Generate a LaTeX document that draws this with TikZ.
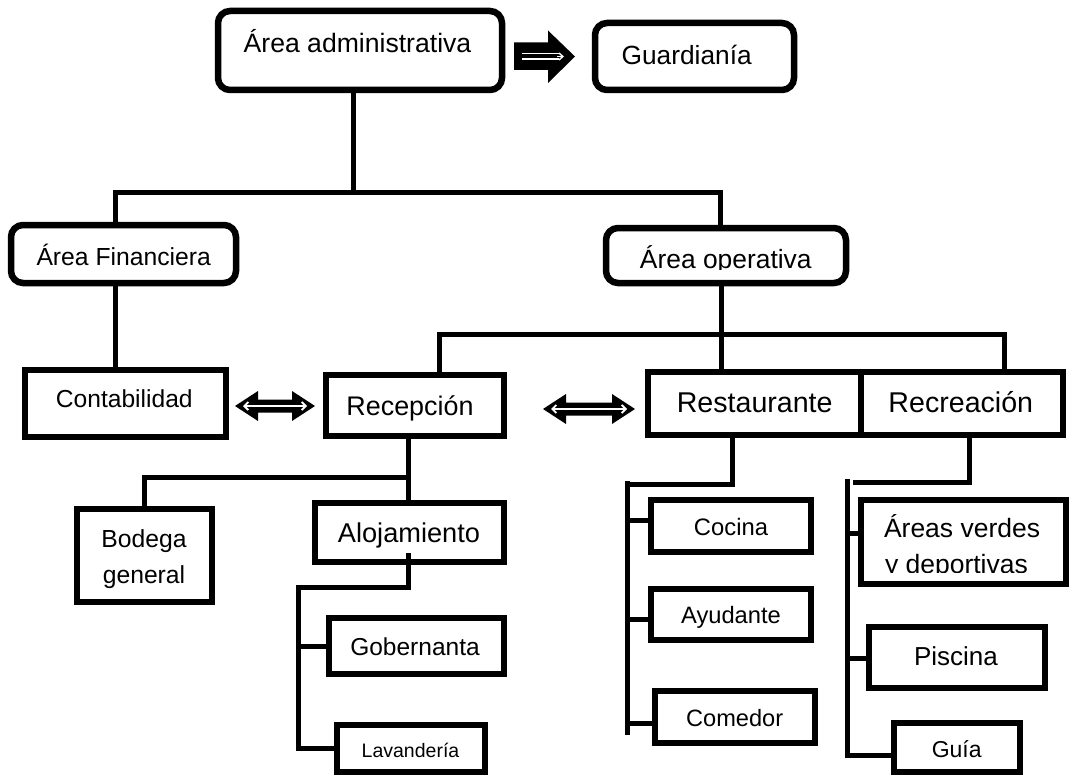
\documentclass[tikz,border=0pt]{standalone}
\usepackage{fontspec}
\setmainfont{Liberation Sans}
\usetikzlibrary{arrows.meta,calc}
\newcommand\tsz[1]{\fontsize{#1pt}{#1pt}\selectfont}
\begin{document}
\begin{tikzpicture}[x=1pt,y=-1pt,
  orgbox/.style={draw=black, line width=6pt, fill=white, inner sep=0pt, outer sep=0pt},
  roundbox/.style={orgbox, line width=6.5pt, rounded corners=12pt},
  link/.style={draw=black, line width=5pt, line join=miter},
  lbl/.style={anchor=base, inner sep=0pt, outer sep=0pt},
  fatarrow/.style={fill=black},
  hollowarrow/.style={draw=white, double=black, double distance=4pt, line width=1.6pt},
  thinarrow/.style={draw=white, line width=1.8pt}]
\useasboundingbox[fill=white] (0,0) rectangle (1069,776);

% ---- boxes ----
\node[roundbox, minimum width=284pt, minimum height=79pt] (adm)   at (360,50.5) {};
\node[roundbox, minimum width=199pt, minimum height=67pt] (guard) at (694.5,56.5) {};
\node[roundbox, minimum width=225pt, minimum height=58pt] (fin)   at (123.5,254) {};
\node[roundbox, minimum width=240pt, minimum height=55pt] (oper)  at (726,255.5) {};
\node[orgbox, minimum width=201pt, minimum height=67pt] (cont)  at (125,403) {};
\node[orgbox, minimum width=178pt, minimum height=61pt] (recep) at (415,405.5) {};
\node[orgbox, minimum width=213pt, minimum height=63pt] (rest)  at (754.5,403.5) {};
\node[orgbox, minimum width=202pt, minimum height=63pt] (recr)  at (962,403.5) {};
\node[orgbox, minimum width=135pt, minimum height=93pt] (bod)   at (144.5,555.5) {};
\node[orgbox, minimum width=189pt, minimum height=59pt] (aloj)  at (409.5,532.5) {};
\node[orgbox, minimum width=175pt, minimum height=56pt] (gob)   at (416.5,646) {};
\node[orgbox, minimum width=148pt, minimum height=47pt] (lav)   at (411,748.5) {};
\node[orgbox, minimum width=160pt, minimum height=52pt] (coc)   at (731,526) {};
\node[orgbox, minimum width=160pt, minimum height=51pt] (ayu)   at (731,614.5) {};
\node[orgbox, minimum width=160pt, minimum height=52pt] (com)   at (735,717) {};
\node[orgbox, minimum width=205pt, minimum height=84pt] (verd)  at (963.5,542) {};
\node[orgbox, minimum width=176pt, minimum height=61pt] (pisc)  at (957,657.5) {};
\node[orgbox, minimum width=126pt, minimum height=49pt] (guia)  at (957,747.5) {};

% ---- junction points ----
\coordinate (admdrop) at (353,192);
\coordinate (topL) at (115,192);
\coordinate (topR) at (720,192);
\coordinate (midC) at (721,334);
\coordinate (midL) at (439,334);
\coordinate (midR) at (1004,334);
\coordinate (recJ) at (408,477);
\coordinate (bodJ) at (144,477);
\coordinate (alojS) at (408,553);
\coordinate (alojJ) at (408,587);
\coordinate (alojL) at (298,587);
\coordinate (alojB) at (298,748.5);
\coordinate (gobJ) at (298,646);
\coordinate (restJ) at (732,484);
\coordinate (restL) at (627,484);
\coordinate (restT) at (627,481);
\coordinate (restB) at (627,735);
\coordinate (cocJ) at (627,520);
\coordinate (ayuJ) at (627,619);
\coordinate (comJ) at (627,723);
\coordinate (recrJ) at (969,482);
\coordinate (recrL) at (853,482);
\coordinate (recrT) at (847,479);
\coordinate (recrB) at (847,758);
\coordinate (verdJ) at (847,533);
\coordinate (piscJ) at (847,658);
\coordinate (guiaJ) at (847,755);

% ---- connectors ----
\draw[link] (adm.south -| admdrop) -- (admdrop);
\draw[link] (fin.north -| topL) -- (topL) -- (topR) -- (oper.north -| topR);
\draw[link] (fin.south -| topL) -- (cont.north -| topL);
\draw[link] (oper.south -| midC) -- (rest.north -| midC);
\draw[link] (recep.north -| midL) -- (midL) -- (midR) -- (recr.north -| midR);
\draw[link] (recep.south -| recJ) -- (aloj.north -| recJ);
\draw[link] (recJ) -- (bodJ) -- (bod.north -| bodJ);
\draw[link] (alojS) -- (alojJ) -- (alojL) -- (alojB) -- (lav.west);
\draw[link] (gobJ) -- (gob.west);
\draw[link] (rest.south -| restJ) -- (restJ) -- (restL);
\draw[link] (restT) -- (restB);
\draw[link] (cocJ) -- (coc.west |- cocJ);
\draw[link] (ayuJ) -- (ayu.west |- ayuJ);
\draw[link] (comJ) -- (com.west |- comJ);
\draw[link] (recr.south -| recrJ) -- (recrJ) -- (recrL);
\draw[link] (recrT) -- (recrB);
\draw[link] (verdJ) -- (verd.west |- verdJ);
\draw[link] (piscJ) -- (pisc.west |- piscJ);
\draw[link] (guiaJ) -- (guia.west |- guiaJ);

% ---- block arrows ----
\coordinate (ga) at (514,56.5);
\coordinate (gb) at (575,56.5);
\fill[fatarrow] (ga) ++(0,-14) -- ++(34,0) -- ++(0,-12) -- (gb) -- ++(-27,26.5) -- ++(0,-13) -- ++(-34,0) -- cycle;
\draw[hollowarrow] ($(ga)+(8,0)$) -- ($(gb)+(-16,0)$);
\draw[white, line width=1.4pt, -{Straight Barb[length=4pt,width=7pt]}] ($(gb)+(-18,0)$) -- ($(gb)+(-11,0)$);

\coordinate (ca) at (235,406);
\coordinate (cb) at (315,406);
\fill[fatarrow] (ca) -- ++(23,-15) -- ++(0,8.5) -- ++(34,0) -- ++(0,-8.5) -- (cb) -- ++(-23,15) -- ++(0,-8.5) -- ++(-34,0) -- ++(0,8.5) -- cycle;
\draw[thinarrow, {Straight Barb[length=4pt,width=8pt]}-{Straight Barb[length=4pt,width=8pt]}] ($(ca)+(8,0)$) -- ($(cb)+(-8,0)$);

\coordinate (ra) at (543,409);
\coordinate (rb) at (635,409);
\fill[fatarrow] (ra) -- ++(23,-15) -- ++(0,8.5) -- ++(46,0) -- ++(0,-8.5) -- (rb) -- ++(-23,15) -- ++(0,-8.5) -- ++(-46,0) -- ++(0,8.5) -- cycle;
\draw[thinarrow, {Straight Barb[length=4pt,width=8pt]}-{Straight Barb[length=4pt,width=8pt]}] ($(ra)+(8,0)$) -- ($(rb)+(-8,0)$);

% ---- labels ----
\node[lbl, font=\tsz{26.6}] (adm-t)   at (357.5,53)  {Área administrativa};
\node[lbl, font=\tsz{26.3}] (guard-t) at (686.7,65)  {Guardianía};
\node[lbl, font=\tsz{24.7}] (fin-t)   at (123.7,265) {Área Financiera};
\begin{scope}
  \clip (606,228) rectangle (846,269);
  \node[lbl, font=\tsz{26.4}] (oper-t) at (725.8,268) {Área operativa};
\end{scope}
\node[lbl, font=\tsz{24.6}] (cont-t)  at (124.3,407) {Contabilidad};
\node[lbl, font=\tsz{26.9}] (recep-t) at (410,415)   {Recepción};
\node[lbl, font=\tsz{28.6}] (rest-t)  at (754.7,412) {Restaurante};
\node[lbl, font=\tsz{28.6}] (recr-t)  at (960.8,412) {Recreación};
\node[lbl, font=\tsz{24.7}] (bod-t1)  at (144,547)   {Bodega};
\node[lbl, font=\tsz{24.7}] (bod-t2)  at (144,583)   {general};
\node[lbl, font=\tsz{27.2}] (aloj-t)  at (409,542)   {Alojamiento};
\node[lbl, font=\tsz{24.5}] (gob-t)   at (415,655)   {Gobernanta};
\node[lbl, font=\tsz{19.5}] (lav-t)   at (410.5,757) {Lavandería};
\node[lbl, font=\tsz{23.8}] (coc-t)   at (731,535)   {Cocina};
\node[lbl, font=\tsz{23.7}] (ayu-t)   at (731,623)   {Ayudante};
\node[lbl, font=\tsz{23.6}] (com-t)   at (734.7,726) {Comedor};
\begin{scope}
  \clip (864,503) rectangle (1063,572);
  \node[lbl, anchor=base west, font=\tsz{26.5}] (verd-t1) at (884,537) {Áreas verdes};
  \node[lbl, anchor=base west, font=\tsz{26.5}] (verd-t2) at (885,573) {y deportivas};
\end{scope}
\node[lbl, font=\tsz{26}]   (pisc-t)  at (956,665)   {Piscina};
\node[lbl, font=\tsz{23}]   (guia-t)  at (956.7,757) {Guía};
\end{tikzpicture}
\end{document}
